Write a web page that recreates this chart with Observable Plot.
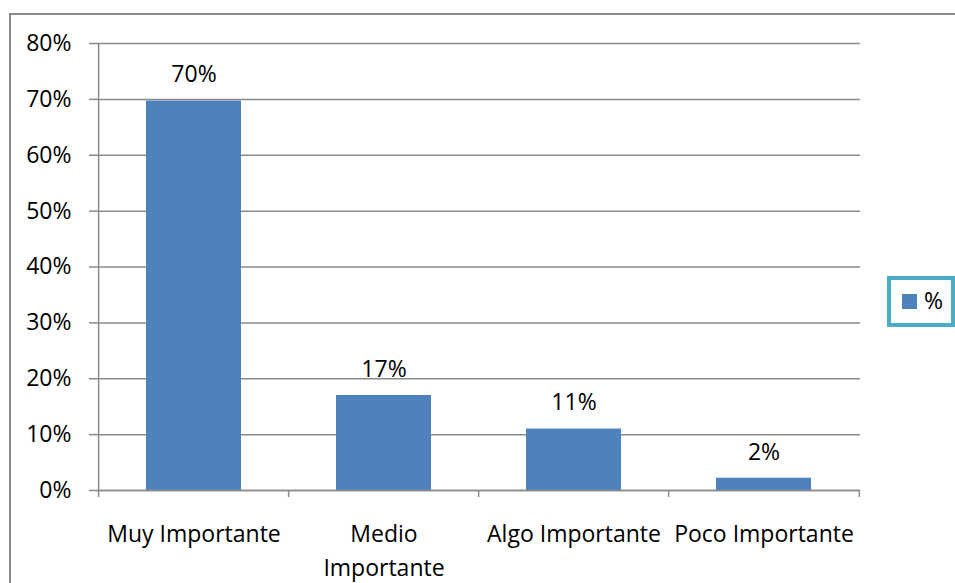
<!DOCTYPE html>
<html>
<head>
<meta charset="utf-8">
<script src="https://cdn.jsdelivr.net/npm/d3@7"></script>
<script src="https://cdn.jsdelivr.net/npm/@observablehq/plot@0.6"></script>
<style>
  html, body { margin: 0; padding: 0; background: #fff; overflow: hidden; }
  #wrap { position: relative; width: 955px; height: 583px; overflow: hidden; font-family: "Open Sans", sans-serif; }
  #frame { position: absolute; left: 9px; top: 13px; width: 1200px; height: 1200px; border: 2px solid #8a8a8a; box-sizing: border-box; }
  #chart { position: absolute; left: 0; top: 0; }
  #legend { position: absolute; left: 887px; top: 276px; width: 68px; height: 51px; border: 4px solid #4bacc6; box-sizing: border-box; background: #fff; }
  #legend .sw { position: absolute; left: 11px; top: 14px; width: 15px; height: 15px; background: #4f81bd; }
  #legend .lb { position: absolute; left: 33px; top: 5px; font-size: 23px; line-height: 30px; color: #000; }
</style>
</head>
<body>
<div id="wrap">
  <div id="frame"></div>
  <div id="chart"></div>
  <div id="legend"><div class="sw"></div><div class="lb" id="legendLabel"></div></div>
</div>
<script>
const categories = ["Muy Importante", "Medio Importante", "Algo Importante", "Poco Importante"];
const tickLabels = ["Muy Importante", "Medio\nImportante", "Algo Importante", "Poco Importante"];
const values = [0.697, 0.17, 0.11, 0.022];
const yTicks = [0, 0.1, 0.2, 0.3, 0.4, 0.5, 0.6, 0.7, 0.8];
const seriesName = "%";

const data = categories.map((c, i) => ({category: c, label: tickLabels[i], value: values[i]}));

const W = 955, H = 583, mL = 97, mR = 95, mT = 43, mB = 93;
const padIn = 0.5, padOut = 0.25;
const step = (W - mL - mR) / (categories.length - padIn + 2 * padOut);
const gray = "#8a8a8a";
const pct = d3.format(".0%");

const chart = Plot.plot({
  width: W,
  height: H,
  marginLeft: mL,
  marginRight: mR,
  marginTop: mT,
  marginBottom: mB,
  style: {fontFamily: "Open Sans", fontSize: "23px", background: "transparent", color: "#000", overflow: "visible"},
  x: {domain: categories, paddingInner: padIn, paddingOuter: padOut, axis: null},
  y: {domain: [0, 0.8], axis: null},
  marks: [
    Plot.gridY({ticks: yTicks, stroke: gray, strokeOpacity: 1, strokeWidth: 1.5}),
    Plot.axisY({ticks: yTicks, label: null, tickSize: 8, tickPadding: 18, tickFormat: pct, stroke: gray, strokeWidth: 1.5, fill: "#000", fontSize: 23}),
    Plot.barY(data, {x: "category", y: "value", fill: "#4f81bd"}),
    Plot.ruleY([0], {stroke: gray, strokeWidth: 1.5}),
    Plot.ruleX([categories[0]], {x: d => d, dx: -step / 2, y1: 0, y2: 0.8, stroke: gray, strokeWidth: 1.5}),
    Plot.ruleX(categories, {x: d => d, dx: -step / 2, y1: 0, y2: 0, insetBottom: -7, stroke: gray, strokeWidth: 1.5}),
    Plot.ruleX([categories[categories.length - 1]], {x: d => d, dx: step / 2, y1: 0, y2: 0, insetBottom: -7, stroke: gray, strokeWidth: 1.5}),
    Plot.text(data, {x: "category", y: "value", text: d => pct(d.value), dy: -26, fontSize: 23, fill: "#000"}),
    Plot.text(data, {x: "category", y: () => 0, text: "label", lineAnchor: "top", dy: 27, lineHeight: 1.5, fontSize: 23, fill: "#000"})
  ]
});
document.getElementById("chart").appendChild(chart);
document.getElementById("legendLabel").textContent = seriesName;
</script>
</body>
</html>
